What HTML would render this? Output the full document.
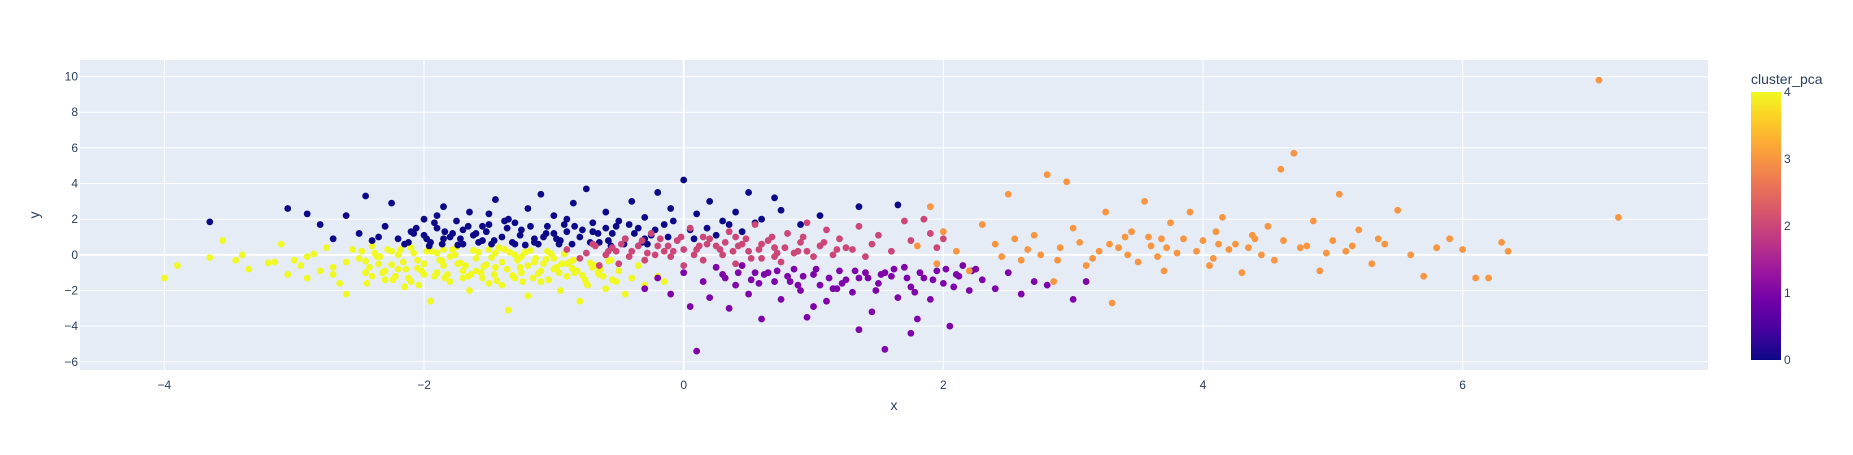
<!DOCTYPE html>
<html><head><meta charset="utf-8"><style>
body{margin:0;background:#fff;width:1853px;height:450px;overflow:hidden;font-family:"Liberation Sans",sans-serif}
svg text{font-family:"Liberation Sans",sans-serif;fill:#2a3f5f}
</style></head><body>
<svg id="chart" width="1853" height="450">
<defs><linearGradient id="plasma" x1="0" y1="1" x2="0" y2="0">
<stop offset="0" stop-color="#0d0887"/><stop offset="0.111" stop-color="#46039f"/><stop offset="0.222" stop-color="#7201a8"/><stop offset="0.333" stop-color="#9c179e"/><stop offset="0.444" stop-color="#bd3786"/><stop offset="0.556" stop-color="#d8576b"/><stop offset="0.667" stop-color="#ed7953"/><stop offset="0.778" stop-color="#fb9f3a"/><stop offset="0.889" stop-color="#fdca26"/><stop offset="1" stop-color="#f0f921"/></linearGradient></defs>
<rect x="80" y="60" width="1628" height="310" fill="#e5ecf6"/>
<g id="grid"></g><g id="marks"></g><g id="axes"></g>
<text x="894" y="410" font-size="14" text-anchor="middle">x</text>
<text x="0" y="0" font-size="14" text-anchor="middle" transform="translate(39,215) rotate(-90)">y</text>
<text x="1751" y="84" font-size="14">cluster_pca</text>
<rect x="1751" y="92" width="30" height="268" fill="url(#plasma)"/>
<g id="cbticks"></g>
</svg>
<script>
const xTicks=[-4,-2,0,2,4,6];
const yTicks=[-6,-4,-2,0,2,4,6,8,10];
const cbTicks=[0,1,2,3,4];
const clusterColors=["#0d0887","#7e03a8","#cc4778","#f89540","#f0f921"];
const c4x=[-4.0,-3.9,-3.65,-3.55,-3.45,-3.4,-3.35,-3.2,-3.15,-3.1,-3.05,-3.0,-2.95,-2.9,-2.85,-2.8,-2.75,-2.7,-2.65,-2.6,-2.55,-2.5,-2.45,-2.4,-2.35,-2.3,-2.25,-2.2,-2.15,-2.1,-2.05,-2.0,-1.95,-1.9,-1.85,-1.8,-1.75,-1.7,-1.65,-1.6,-1.55,-1.5,-1.45,-1.4,-1.35,-1.3,-1.25,-1.2,-1.15,-1.1,-1.05,-1.0,-0.95,-0.9,-0.85,-0.8,-0.75,-0.7,-0.65,-0.6,-0.55,-0.5,-0.45,-0.4,-0.3,-0.2,-0.35,-0.15,-2.4,-2.2,-2.0,-1.8,-1.6,-1.4,-1.2,-1.0,-1.9,-1.7,-1.5,-1.3,-1.1,-2.3,-2.6,-2.1,-1.85,-1.45,-1.25,-0.9,-2.7,-2.9,
-2.48,-2.42,-2.36,-2.28,-2.22,-2.16,-2.08,-2.02,-1.96,-1.88,-1.82,-1.76,-1.68,-1.62,-1.56,-1.48,-1.42,-1.36,-1.28,-1.22,-1.16,-1.08,-1.02,-0.96,-0.88,-0.82,-0.76,-0.68,-0.62,-0.56,
-2.45,-2.38,-2.32,-2.25,-2.18,-2.12,-2.05,-1.98,-1.92,-1.86,-1.78,-1.72,-1.66,-1.58,-1.52,-1.46,-1.38,-1.32,-1.26,-1.18,-1.12,-1.06,-0.98,-0.92,-0.86,-0.78,-0.72,-0.66,-0.58,-0.52,
-2.44,-2.34,-2.24,-2.14,-2.04,-1.94,-1.84,-1.74,-1.64,-1.54,-1.44,-1.34,-1.24,-1.14,-1.04,-0.94,-0.84,-0.74,-0.64];
const c4y=[-1.3,-0.6,-0.15,0.8,-0.3,0.0,-0.8,-0.45,-0.4,0.6,-1.1,-0.3,-0.6,-1.3,0.05,-0.9,0.4,-0.7,-1.6,-2.2,0.3,-0.2,-1.0,0.5,-0.5,-1.4,0.2,-0.8,-1.8,0.4,-0.3,-1.1,-2.6,0.1,-0.6,-1.5,0.45,-0.9,-2.0,-0.2,-1.3,0.3,-0.7,-1.7,-3.1,0.0,-1.0,-2.3,-0.4,-1.5,0.2,-0.8,-2.0,-1.2,-0.3,-2.6,-1.6,-0.7,-1.1,-1.9,-1.4,-0.9,-2.2,-1.3,-1.7,-1.2,-0.6,-1.5,-1.2,0.0,-0.5,-0.1,-0.9,-0.4,-0.6,-0.2,-1.0,-1.3,-1.6,-1.3,-0.9,-0.9,-0.4,-1.5,0.3,0.1,-0.1,-0.5,-1.1,-0.1,
0.2,-0.7,-0.1,0.3,-1.2,-0.4,0.1,-0.9,0.35,-0.3,-1.1,0.0,-0.6,0.25,-1.0,-0.15,0.4,-0.8,-0.3,0.15,-1.3,-0.5,0.05,-1.0,-0.4,-0.9,-1.4,-0.6,-1.2,-0.3,
-0.35,0.1,-1.0,-0.55,0.3,-1.3,-0.75,0.2,-1.2,-0.35,0.3,-0.45,-1.2,0.15,-0.55,-1.1,0.3,-1.15,-0.7,0.25,-1.05,-0.25,-0.7,0.05,-0.75,-1.15,-0.45,-1.0,-0.35,-1.5,
-1.6,-0.1,-1.4,-0.8,-1.7,0.2,-1.3,-0.5,-1.1,-0.65,-1.45,0.15,-1.5,-0.2,-1.4,-0.5,-1.0,-1.7,-0.8];
const c0x=[-3.65,-3.05,-2.9,-2.8,-2.7,-2.6,-2.5,-2.45,-2.4,-2.3,-2.25,-2.2,-2.1,-2.0,-1.95,-1.9,-1.85,-1.8,-1.75,-1.7,-1.65,-1.6,-1.55,-1.5,-1.45,-1.4,-1.35,-1.3,-1.25,-1.2,-1.15,-1.1,-1.05,-1.0,-0.95,-0.9,-0.85,-0.8,-0.75,-0.7,-0.65,-0.6,-0.55,-0.5,-0.45,-0.4,-0.35,-0.3,-0.25,-0.2,-0.15,-0.1,0.0,0.05,0.1,0.2,0.3,0.4,0.45,0.5,0.6,0.7,0.75,0.9,1.05,1.35,1.65,-2.0,-1.7,-1.3,-1.0,-0.6,-2.35,-1.9,-1.5,-0.3,0.25,-0.9,-1.55,-2.15,-1.85,-1.15,
-2.12,-2.06,-1.98,-1.92,-1.86,-1.78,-1.72,-1.66,-1.58,-1.52,-1.46,-1.38,-1.32,-1.26,-1.18,-1.12,-1.06,-0.98,-0.92,-0.86,-0.78,-0.72,-0.66,-0.58,-0.52,-0.46,-0.38,-0.32,-0.22,-0.12,
-2.08,-1.96,-1.84,-1.74,-1.62,-1.48,-1.36,-1.22,-1.08,-0.96,-0.84,-0.7,-0.56,-0.42,-0.28,-0.08,0.08,0.18,0.35,0.55];
const c0y=[1.85,2.6,2.3,1.7,0.9,2.2,1.2,3.3,0.8,1.6,2.9,0.9,1.3,2.0,0.7,1.5,2.7,1.0,1.9,0.6,2.4,1.2,0.8,1.7,3.1,1.0,2.0,0.6,1.4,2.6,0.9,3.4,1.6,2.2,0.8,1.3,2.9,1.0,3.7,1.8,0.7,2.4,1.2,1.9,0.9,3.0,1.5,2.1,1.1,3.5,1.7,2.6,4.2,1.4,2.3,3.0,1.9,2.4,1.3,3.5,2.0,3.2,2.5,1.7,2.2,2.7,2.8,1.1,1.4,1.8,1.2,1.5,1.0,2.2,2.3,0.9,1.1,2.0,1.6,0.6,0.9,0.7,
0.7,1.5,0.9,1.8,0.6,1.2,0.9,1.6,0.7,1.3,0.8,1.9,0.7,1.1,1.6,0.6,1.2,0.9,1.7,0.6,1.4,0.7,1.2,0.8,1.6,0.6,1.2,0.7,1.4,1.0,
1.2,0.5,1.3,0.55,1.1,0.6,1.5,0.55,1.0,0.6,1.6,1.3,0.5,1.7,0.6,1.9,0.9,1.5,1.7,1.8];
const c2x=[-0.9,-0.8,-0.7,-0.6,-0.5,-0.45,-0.4,-0.3,-0.25,-0.2,-0.1,-0.05,0.0,0.05,0.1,0.15,0.2,0.3,0.35,0.4,0.45,0.5,0.55,0.6,0.65,0.7,0.75,0.8,0.85,0.9,0.95,1.0,1.05,1.1,1.15,1.2,1.3,1.35,1.45,1.5,1.6,1.7,1.75,1.85,1.9,1.95,2.0,-0.65,-0.35,0.25,0.6,0.15,-0.15,0.4,0.7,1.25,0.95,-0.55,0.0,1.4,
-0.75,-0.68,-0.58,-0.48,-0.42,-0.32,-0.22,-0.12,-0.02,0.08,0.18,0.28,0.38,0.48,0.58,0.68,0.78,0.88,1.08,1.18,-0.52,-0.28,-0.08,0.12,0.32,0.52,0.72,0.92,-0.18,0.42];
const c2y=[0.3,-0.2,0.6,0.0,-0.5,0.9,0.2,-0.3,1.2,0.5,-0.1,0.8,-0.6,1.5,0.3,-0.3,0.9,0.0,1.3,-0.5,0.6,0.2,1.7,-0.2,0.8,0.4,-0.4,1.2,0.1,0.7,1.8,-0.1,0.5,1.4,0.0,0.9,0.3,1.6,0.6,1.1,0.2,1.9,0.8,2.0,1.2,0.4,0.9,-0.6,0.5,0.5,0.6,1.0,0.2,1.0,-0.1,0.4,0.2,0.4,0.3,-0.1,
0.1,0.5,0.2,0.6,-0.1,0.8,0.0,0.5,1.0,0.0,0.6,0.3,0.2,0.9,0.3,1.0,0.4,0.2,0.7,0.3,0.2,0.1,0.2,0.5,0.7,-0.2,0.1,1.0,0.9,0.5];
const c1x=[-0.3,-0.2,-0.1,0.0,0.05,0.1,0.15,0.2,0.3,0.35,0.4,0.5,0.55,0.6,0.7,0.75,0.8,0.9,0.95,1.0,1.05,1.1,1.2,1.25,1.3,1.35,1.4,1.45,1.5,1.55,1.6,1.65,1.7,1.75,1.8,1.85,1.9,1.95,2.0,2.05,2.1,2.2,2.25,2.3,2.4,2.5,2.6,2.7,2.8,3.0,3.1,0.45,0.85,1.15,1.55,1.35,0.65,2.15,1.0,1.75,0.25,
0.32,0.42,0.52,0.62,0.72,0.82,0.92,1.02,1.12,1.22,1.32,1.42,1.52,1.62,1.72,1.82,1.92,2.02,2.12,2.22,0.58,0.88,1.18,1.48,1.78,2.08];
const c1y=[-1.9,-1.3,-2.2,-1.0,-2.9,-5.4,-1.5,-2.4,-1.1,-3.0,-1.7,-2.2,-1.0,-3.6,-1.5,-2.5,-1.2,-2.0,-3.5,-1.1,-1.7,-2.6,-0.9,-1.4,-2.1,-4.2,-1.0,-3.2,-1.6,-5.3,-1.2,-2.4,-0.7,-1.8,-3.6,-1.3,-2.5,-0.9,-1.6,-4.0,-1.1,-2.0,-0.8,-1.4,-1.9,-1.0,-2.2,-1.5,-1.7,-2.5,-1.5,-0.6,-0.8,-1.9,-1.0,-1.3,-1.0,-0.6,-2.9,-4.4,-0.7,
-1.3,-1.0,-1.4,-1.1,-0.9,-1.5,-1.2,-0.8,-1.3,-1.6,-0.9,-1.3,-1.1,-0.8,-1.3,-1.0,-1.4,-0.8,-1.2,-0.9,-1.6,-1.7,-1.9,-2.0,-2.1,-1.8];
const c3x=[1.8,1.9,1.95,2.0,2.1,2.2,2.3,2.4,2.5,2.6,2.7,2.8,2.85,2.9,2.95,3.0,3.1,3.2,3.25,3.3,3.4,3.5,3.55,3.6,3.7,3.75,3.8,3.9,4.0,4.05,4.1,4.15,4.2,4.3,4.4,4.5,4.55,4.6,4.7,4.75,4.85,4.9,5.0,5.05,5.1,5.2,5.3,5.4,5.5,5.6,5.7,5.8,5.9,6.0,6.1,6.2,6.3,6.35,7.05,7.2,3.35,3.85,4.25,4.45,3.45,2.55,3.15,4.8,3.65,2.75,
2.65,3.05,3.42,3.58,3.72,3.95,4.12,4.35,4.62,4.95,5.15,5.35,2.45,2.88,3.28,3.68,4.08,4.38];
const c3y=[0.5,2.7,-0.5,1.3,0.2,-0.9,1.7,0.6,3.4,-0.3,1.1,4.5,-1.5,0.4,4.1,1.5,-0.6,0.2,2.4,-2.7,1.0,-0.4,3.0,0.5,-0.9,1.8,0.1,2.4,0.8,-0.6,1.3,2.1,0.3,-1.0,0.9,1.6,-0.3,4.8,5.7,0.4,1.9,-0.9,0.8,3.4,0.2,1.4,-0.5,0.6,2.5,0.0,-1.2,0.4,0.9,0.3,-1.3,-1.3,0.7,0.2,9.8,2.1,0.4,0.9,0.6,0.0,1.3,0.9,-0.2,0.5,-0.1,0.0,
0.3,0.7,0.0,1.0,0.4,0.2,0.6,0.4,0.8,0.1,0.5,0.9,-0.1,-0.3,0.6,0.9,-0.2,1.1];
const clustersX=[c0x,c1x,c2x,c3x,c4x];
const clustersY=[c0y,c1y,c2y,c3y,c4y];
const drawOrder=[4,0,2,1,3];

const NS="http://www.w3.org/2000/svg";
const X0=80,X1=1708,Y0=60,Y1=370,xmin=-4.65,xmax=7.89,ymin=-6.46,ymax=10.93;
const sx=v=>X0+(v-xmin)/(xmax-xmin)*(X1-X0);
const sy=v=>Y1-(v-ymin)/(ymax-ymin)*(Y1-Y0);
function mk(t,a){const e=document.createElementNS(NS,t);for(const k in a)e.setAttribute(k,a[k]);return e;}
const grid=document.getElementById('grid'),axes=document.getElementById('axes'),marks=document.getElementById('marks'),cb=document.getElementById('cbticks');
xTicks.forEach(t=>{
  const l=mk('line',{x1:sx(t),x2:sx(t),y1:Y0,y2:Y1,stroke:'#fff','stroke-width':t===0?2:1});
  
  
  grid.appendChild(l);
  const tx=mk('text',{x:sx(t),y:389,'font-size':12,'text-anchor':'middle'});
  tx.textContent=t<0?'\u2212'+Math.abs(t):t;
  
  
  axes.appendChild(tx);
});
yTicks.forEach(t=>{
  const l=mk('line',{x1:X0,x2:X1,y1:sy(t),y2:sy(t),stroke:'#fff','stroke-width':t===0?2:1});
  
  
  grid.appendChild(l);
  const tx=mk('text',{x:78,y:sy(t)+4,'font-size':12,'text-anchor':'end'});
  tx.textContent=t<0?'\u2212'+Math.abs(t):t;
  
  
  axes.appendChild(tx);
});
drawOrder.forEach(c=>{
  const xs=clustersX[c],ys=clustersY[c];
  xs.forEach((v,i)=>{
    const p=mk('circle',{cx:sx(v),cy:sy(ys[i]),r:3.4,fill:clusterColors[c]});
    
    
    marks.appendChild(p);
  });
});
cbTicks.forEach(t=>{
  const tx=mk('text',{x:1784,y:360-t*67+4,'font-size':12});
  tx.textContent=t;
  
  
  cb.appendChild(tx);
});
</script>
</body></html>
